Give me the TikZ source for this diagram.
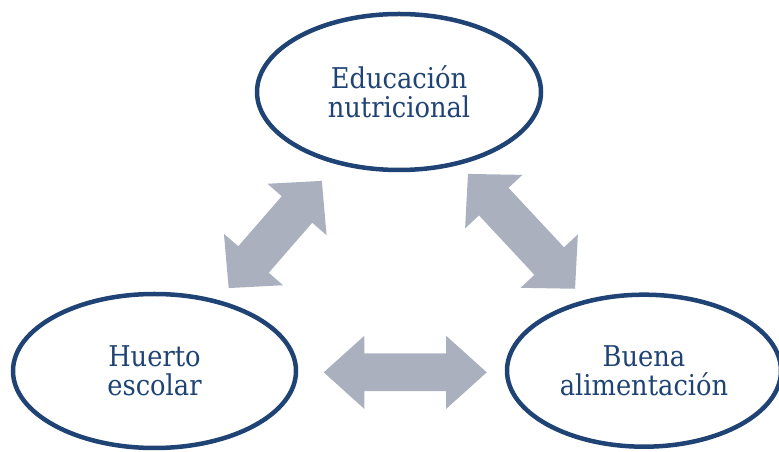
\documentclass[tikz,border=0pt]{standalone}
\usepackage{fontspec}
\setmainfont{DejaVu Serif}[FakeStretch=0.9]
\usetikzlibrary{shapes.geometric}
\usetikzlibrary{shapes.arrows}
\usetikzlibrary{calc}
\definecolor{ovalblue}{RGB}{31,67,116}
\definecolor{arrowgray}{RGB}{171,176,191}

\tikzset{
oval/.style={ellipse, draw=ovalblue, line width=4.5pt, text=ovalblue, align=center, inner sep=0pt, font=\fontsize{28.6}{29.5}\selectfont},
twoway/.style={double arrow, fill=arrowgray, inner xsep=0pt, inner ysep=18.7pt, double arrow head extend=17.6pt, double arrow tip angle=84, minimum height=#1},
slanted/.style={inner ysep=20pt, double arrow head extend=19pt, double arrow tip angle=92}
}

\begin{document}
\begin{tikzpicture}[x=1pt,y=1pt]

\useasboundingbox (0,0) rectangle (779,452);

\node[oval, minimum width=284pt, minimum height=156pt] (edu) at (399,360) {Educación\\nutricional};
\node[oval, minimum width=283pt, minimum height=154pt] (huerto) at (154.5,81) {Huerto\\escolar};
\node[oval, minimum width=274pt, minimum height=152pt] (buena) at (644,81.3) {Buena\\alimentación};

% arrows between the ovals
\node[twoway=142pt, slanted, rotate=49] (eduhuerto) at ($(edu)!0.5!(huerto)+(-1.5,-3)$) {};
\node[twoway=157pt, slanted, rotate=-47] (edubuena) at ($(edu)!0.5!(buena)$) {};
\node[twoway=163pt] (huertobuena) at ($(huerto)!0.5!(buena)+(6,-1.5)$) {};

\end{tikzpicture}
\end{document}
